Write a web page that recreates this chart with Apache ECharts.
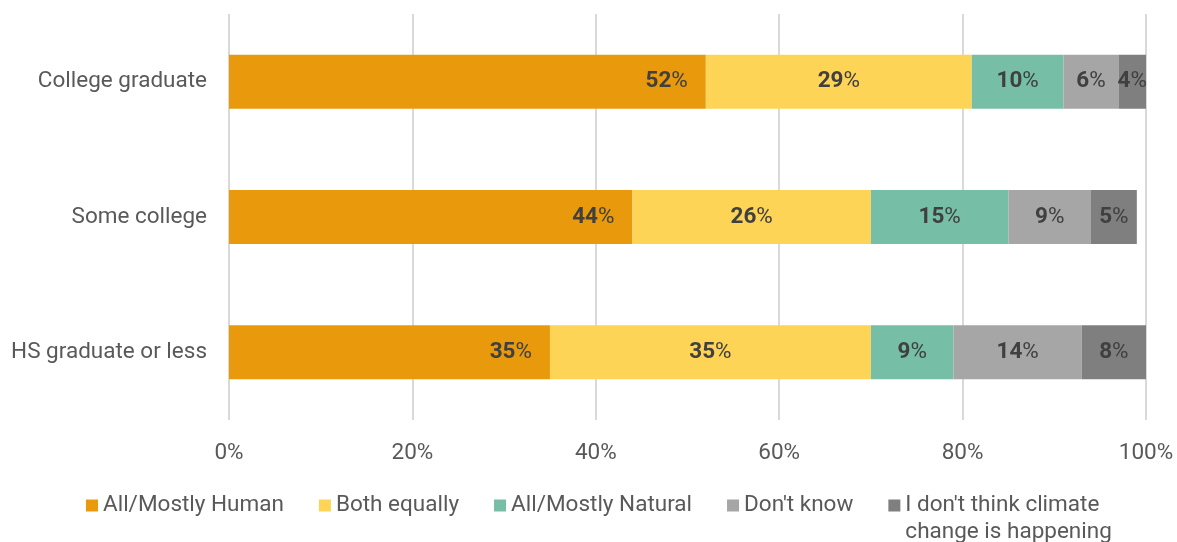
<!DOCTYPE html>
<html><head><meta charset="utf-8">
<script src="https://cdn.jsdelivr.net/npm/echarts@6/dist/echarts.min.js"></script>
<style>html,body{margin:0;padding:0;background:#fff}#c{width:1177px;height:542px}</style>
</head><body><div id="c"></div>
<script>
const categories = ['HS graduate or less', 'Some college', 'College graduate'];
const seriesNames = ['All/Mostly Human', 'Both equally', 'All/Mostly Natural', "Don't know", "I don't think climate\nchange is happening"];
const human = [35, 44, 52];
const both = [35, 26, 29];
const natural = [9, 15, 10];
const dontKnow = [14, 9, 6];
const notHappening = [8, 5, 4];
const xTicks = [0, 20, 40, 60, 80, 100];
const colors = ['#E89A0C', '#FDD456', '#76BFA6', '#A6A6A6', '#7F7F7F'];

const FONT = 'Roboto, sans-serif';
const FS = 22.5;
const values = [human, both, natural, dontKnow, notHappening];

const chart = echarts.init(document.getElementById('c'));
const series = values.map((arr, i) => ({
  name: seriesNames[i],
  type: 'bar',
  stack: 'total',
  barWidth: 54,
  clip: true,
  data: arr,
  itemStyle: { color: colors[i] },
  label: {
    show: true,
    position: i === 0 ? 'insideRight' : 'inside',
    distance: 18,
    formatter: p => '{b|' + p.value + '}{p|%}',
    rich: {
      b: { fontFamily: FONT, fontSize: FS, fontWeight: 'bold', color: '#404040' },
      p: { fontFamily: FONT, fontSize: FS, color: '#404040' }
    }
  }
}));

chart.setOption({
  animation: false,
  grid: { left: 229, right: 31, top: 14, bottom: 122 },
  xAxis: {
    type: 'value', min: 0, max: 100, interval: 20,
    axisLine: { show: false }, axisTick: { show: false },
    splitLine: { lineStyle: { color: '#D9D9D9', width: 2 } },
    axisLabel: {
      margin: 22, color: '#595959', fontFamily: FONT, fontSize: FS,
      formatter: v => xTicks.includes(v) ? v + '%' : ''
    }
  },
  yAxis: {
    type: 'category', data: categories,
    axisLine: { show: false }, axisTick: { show: false },
    axisLabel: { margin: 22, color: '#595959', fontFamily: FONT, fontSize: FS }
  },
  legend: {
    top: 460, left: 81,
    icon: 'rect', itemWidth: 12, itemHeight: 12, itemGap: 35,
    textStyle: { color: '#595959', fontFamily: FONT, fontSize: FS, lineHeight: 27 },
    formatter: name => name.indexOf('\n') >= 0 ? '\u00a0\n' + name : name,
    data: seriesNames
  },
  series
});
</script></body></html>
